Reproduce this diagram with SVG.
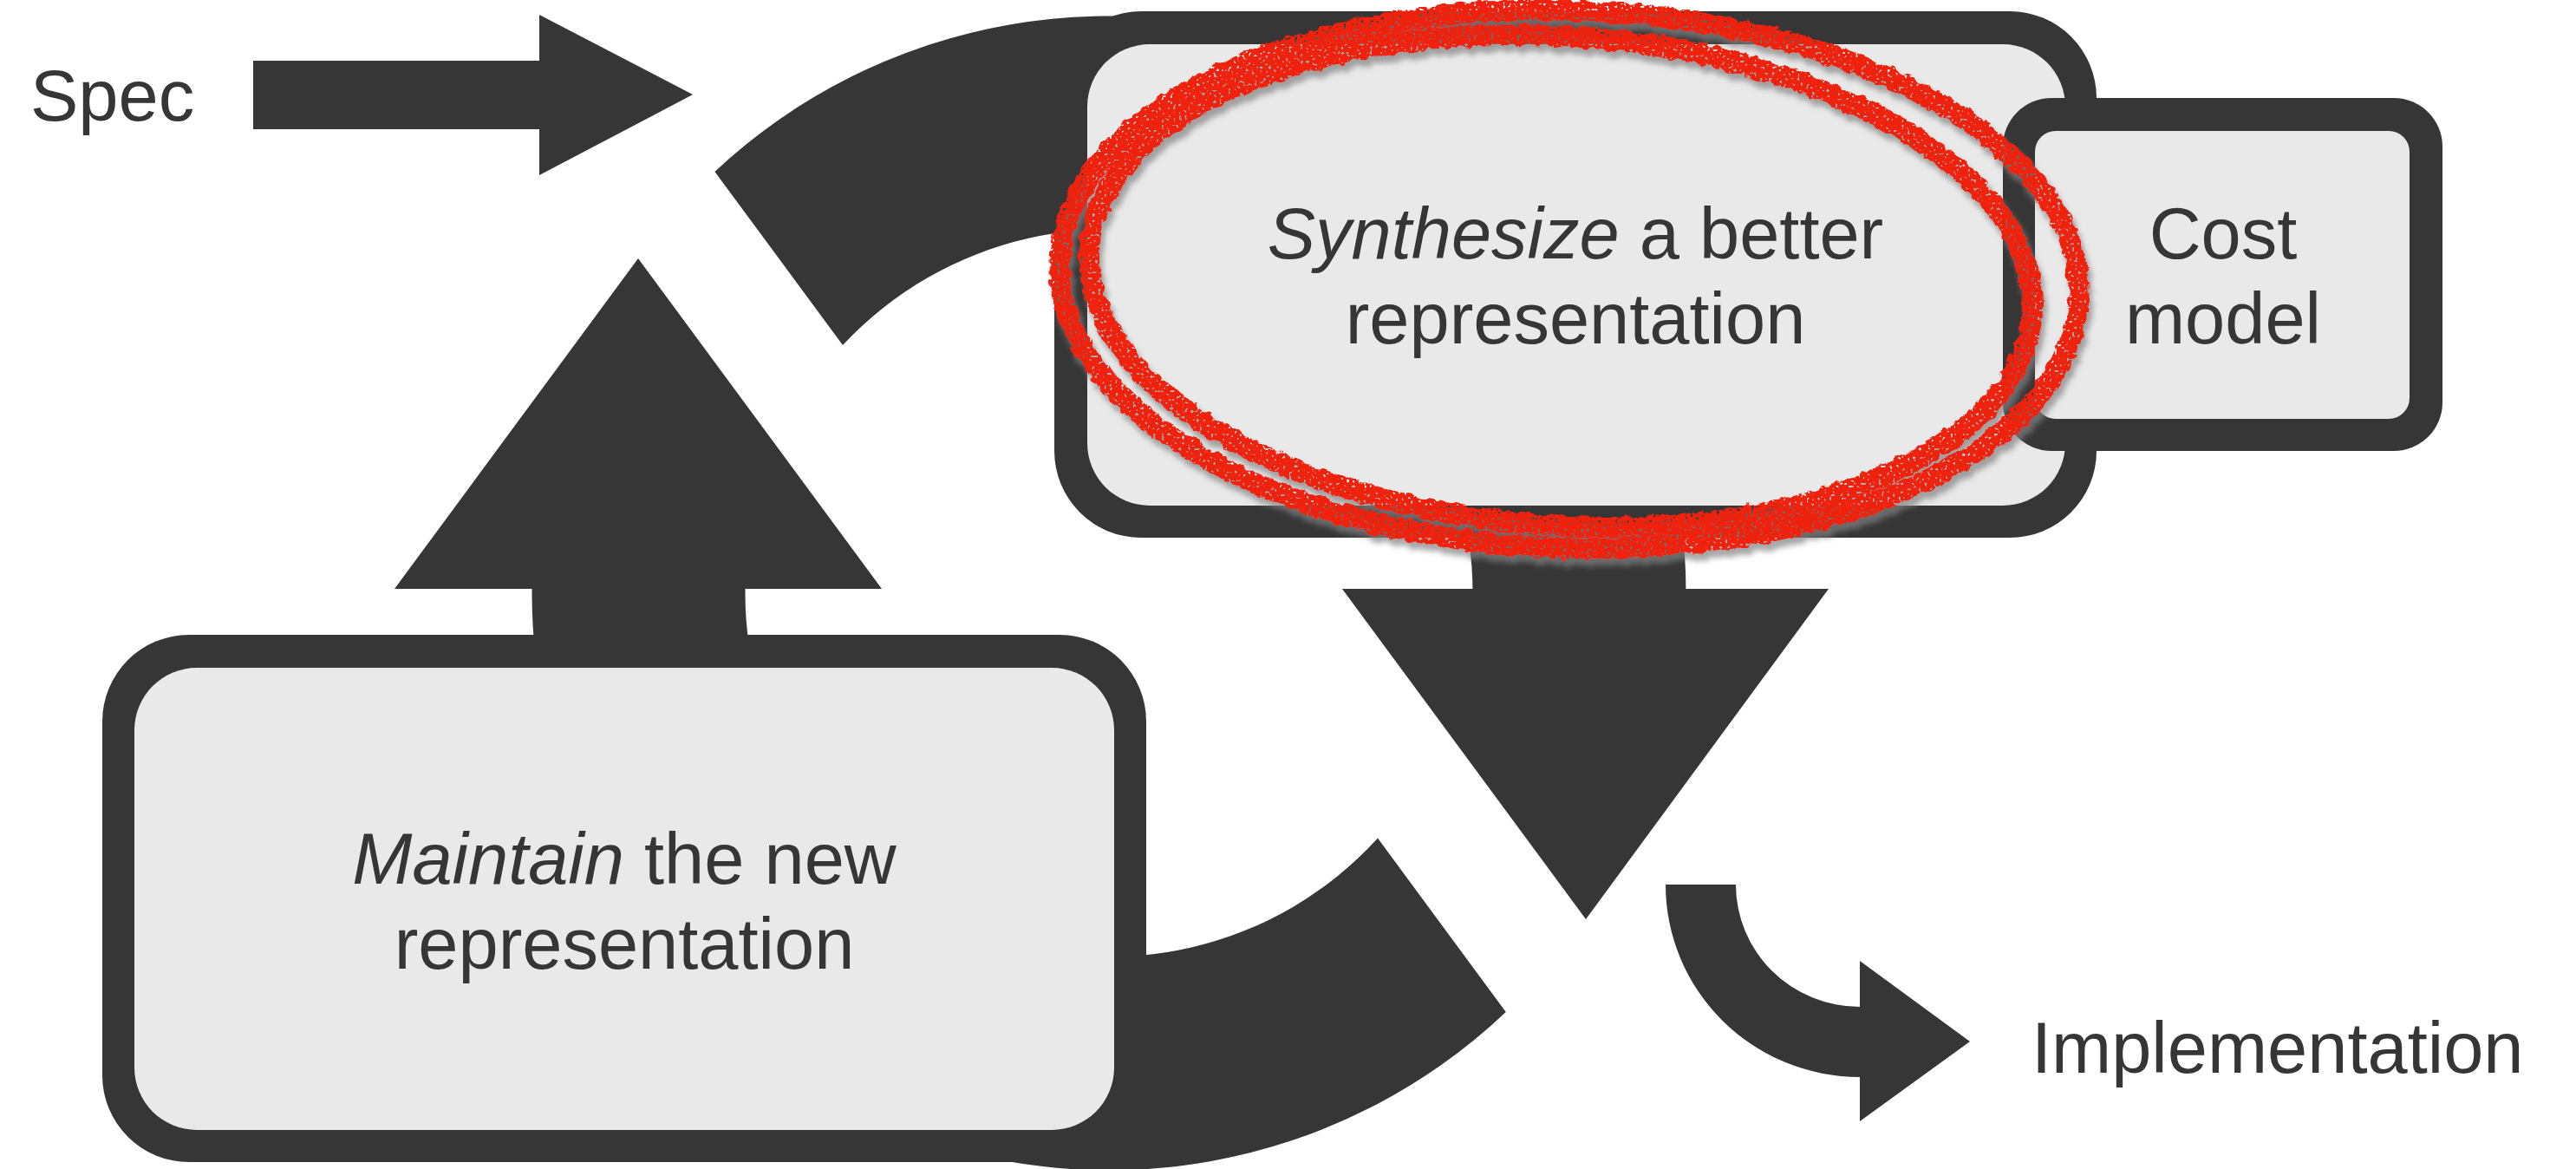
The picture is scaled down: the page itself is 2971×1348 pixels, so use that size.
<svg xmlns="http://www.w3.org/2000/svg" width="2971" height="1348" viewBox="0 0 2971 1348">
  <style>
    .ink { fill: #363636; }
    .frame { fill: #363636; }
    .panel { fill: #e9e9e9; }
    .label { font-family: "Liberation Sans", Arial, Helvetica, sans-serif; font-size: 83px; fill: #363636; }
    .mid { text-anchor: middle; }
    .em { font-style: italic; }
    .scribble { fill: none; stroke: #ee2211; stroke-width: 24; stroke-linecap: round; }
  </style>
  <defs>
    <!-- chalky red pen with a soft grey drop shadow -->
    <filter id="crayon" x="-8%" y="-10%" width="116%" height="120%">
      <feTurbulence type="fractalNoise" baseFrequency="0.09" numOctaves="2" seed="7" result="noise"/>
      <feDisplacementMap in="SourceGraphic" in2="noise" scale="10" xChannelSelector="R" yChannelSelector="G" result="rough"/>
      <feTurbulence type="fractalNoise" baseFrequency="0.3" numOctaves="1" seed="2" result="grain"/>
      <feColorMatrix in="grain" type="matrix" values="0 0 0 0 0  0 0 0 0 0  0 0 0 0 0  0 0 0 -16 11" result="grainMask"/>
      <feComposite in="rough" in2="grainMask" operator="in" result="pen"/>
      <feGaussianBlur in="rough" stdDeviation="3" result="blur"/>
      <feOffset in="blur" dx="4" dy="8" result="off"/>
      <feColorMatrix in="off" type="matrix" values="0 0 0 0 0.22  0 0 0 0 0.22  0 0 0 0 0.22  0 0 0 0.7 0" result="shadow"/>
      <feMerge>
        <feMergeNode in="shadow"/>
        <feMergeNode in="pen"/>
      </feMerge>
    </filter>
  </defs>

  <rect width="2971" height="1348" fill="#ffffff"/>

  <!-- connectors: the two halves of the cycle, input and output arrows -->
  <g id="connectors">
    <!-- upper half-ring, ends as the shaft of the down arrow -->
    <path class="ink" d="M 824.4 197.9 A 665.5 665.5 0 0 1 1944.5 684 L 1698.5 684 A 419.5 419.5 0 0 0 972 398 Z"/>
    <polygon class="ink" points="1548,679 2109,679 1829,1060"/>
    <!-- lower half-ring, ends as the shaft of the up arrow -->
    <path class="ink" d="M 1736.8 1167 A 665.5 665.5 0 0 1 613.5 684 L 613.5 676 L 859.5 676 L 859.5 684 A 419.5 419.5 0 0 0 1589 966.6 Z"/>
    <polygon class="ink" points="455,679 1017,679 736,298"/>
    <!-- Spec input arrow -->
    <polygon class="ink" points="292,70 622,70 622,17 799,109 622,202 622,149 292,149"/>
    <!-- bent output arrow towards Implementation -->
    <path class="ink" d="M 1921 1020 L 2002 1020 A 143 141 0 0 0 2145 1161 L 2145 1108 L 2272 1201 L 2145 1293 L 2145 1242 A 224 222 0 0 1 1921 1020 Z"/>
  </g>

  <g id="node-spec">
    <text class="label" x="35" y="139">Spec</text>
  </g>

  <g id="node-synthesize">
    <rect class="frame" x="1216" y="13" width="1202" height="607" rx="100"/>
    <rect class="panel" x="1254" y="51" width="1128" height="532" rx="72"/>
    <text class="label mid" x="1817" y="298"><tspan class="em">Synthesize</tspan> a better</text>
    <text class="label mid" x="1817" y="396">representation</text>
  </g>

  <g id="node-cost">
    <rect class="frame" x="2310" y="113" width="507" height="407" rx="56"/>
    <rect class="panel" x="2347" y="151" width="432" height="332" rx="24"/>
    <text class="label mid" x="2564" y="298">Cost</text>
    <text class="label mid" x="2564" y="396">model</text>
  </g>

  <g id="node-maintain">
    <rect class="frame" x="118" y="732" width="1204" height="608" rx="100"/>
    <rect class="panel" x="155" y="770" width="1130" height="533" rx="72"/>
    <text class="label mid" x="720" y="1019"><tspan class="em">Maintain</tspan> the new</text>
    <text class="label mid" x="720" y="1117">representation</text>
  </g>

  <g id="node-implementation">
    <text class="label" x="2343" y="1237">Implementation</text>
  </g>

  <!-- hand-drawn red highlight round the synthesis step -->
  <g id="highlight" filter="url(#crayon)">
    <ellipse class="scribble" cx="1810" cy="322" rx="588" ry="310" transform="rotate(2 1810 322)"/>
    <ellipse class="scribble" cx="1800" cy="324" rx="545" ry="282" transform="rotate(4 1800 324)"/>
  </g>
</svg>
